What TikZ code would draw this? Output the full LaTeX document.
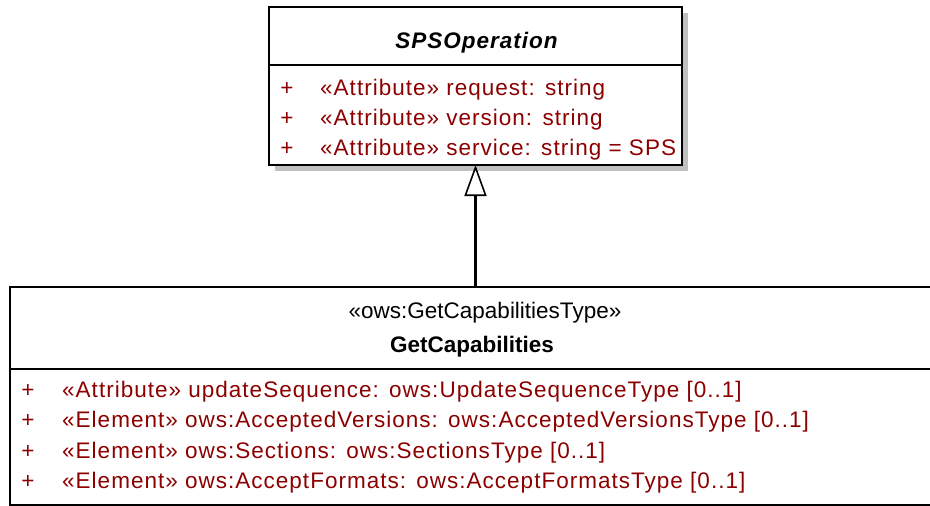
\documentclass[tikz,border=0pt]{standalone}
\usepackage{fontspec}
\setmainfont{Liberation Sans}[LetterSpace=4.5]
\newfontfamily\headfont{Liberation Sans}
\usetikzlibrary{arrows.meta}
\definecolor{attr}{RGB}{140,0,0}
\definecolor{shade}{RGB}{192,192,192}
\newcommand{\cgap}{\ \kern3pt}
\tikzset{
  box/.style={draw=black, line width=1.6pt, fill=white, inner sep=0pt, outer sep=0pt},
  shadowbox/.style={fill=shade, draw=none, inner sep=0pt, outer sep=0pt},
  row/.style={anchor=base west, inner sep=0pt, text=attr, font=\fontsize{22.5}{26}\selectfont},
  plus/.style={anchor=base, inner sep=0pt, text=attr, font=\fontsize{22.5}{26}\selectfont},
  head/.style={anchor=base, inner sep=0pt, text=black, font=\headfont\fontsize{22.5}{26}\selectfont},
  gen/.style={line width=2.2pt, -{Triangle[open, length=31pt, width=22pt, line width=1.6pt]}}
}
\begin{document}
\begin{tikzpicture}[x=1pt, y=-1pt]
\useasboundingbox (0,0) rectangle (930,506);
\clip (0,0) rectangle (930,506);
\fill[white] (0,0) rectangle (930,506);
% superclass
\node[shadowbox, minimum width=413pt, minimum height=158pt] (supshadow) at (481.5,92) {};
\node[box, minimum width=413pt, minimum height=158pt] (super) at (475.5,86) {};
\draw[line width=1.6pt] (269,65) -- (682,65);
\node[anchor=base, inner sep=0pt, font=\fontsize{22.5}{26}\selectfont\bfseries\itshape] (supname) at (476.5,48) {SPSOperation};
\node[plus] (p1) at (287,95) {+};
\node[plus] (p2) at (287,125) {+};
\node[plus] (p3) at (287,155) {+};
\node[row] (a1) at (320,95) {«Attribute» request:\cgap string};
\node[row] (a2) at (320,125) {«Attribute» version:\cgap string};
\node[row] (a3) at (320,155) {«Attribute» service:\cgap string = SPS};
% subclass
\node[box, minimum width=935pt, minimum height=218pt] (sub) at (477.5,396) {};
\draw[line width=1.6pt] (10,369) -- (945,369);
\node[head] (substereo) at (485,318) {«ows:GetCapabilitiesType»};
\node[head, font=\headfont\fontsize{22.5}{26}\selectfont\bfseries] (subname) at (472,352) {GetCapabilities};
\node[plus] (q1) at (28,397) {+};
\node[plus] (q2) at (28,427.5) {+};
\node[plus] (q3) at (28,458) {+};
\node[plus] (q4) at (28,488.5) {+};
\node[row] (b1) at (62,397) {«Attribute» updateSequence:\cgap ows:UpdateSequenceType [0..1]};
\node[row] (b2) at (62,427.5) {«Element» ows:AcceptedVersions:\cgap ows:AcceptedVersionsType [0..1]};
\node[row] (b3) at (62,458) {«Element» ows:Sections:\cgap ows:SectionsType [0..1]};
\node[row] (b4) at (62,488.5) {«Element» ows:AcceptFormats:\cgap ows:AcceptFormatsType [0..1]};
% generalization
\coordinate (gfoot) at (super.south |- sub.north);
\draw[gen] (gfoot) -- (super.south);
\end{tikzpicture}
\end{document}
